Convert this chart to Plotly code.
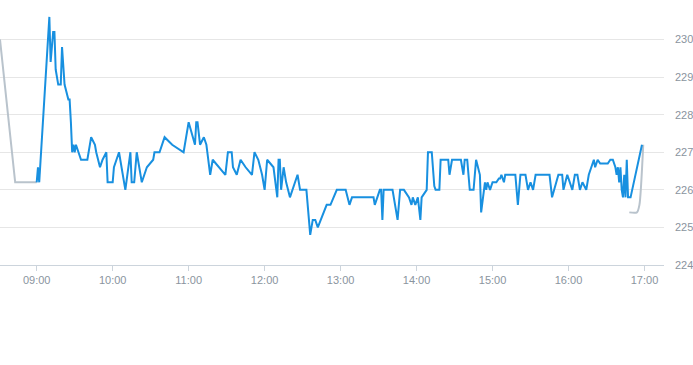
import plotly.graph_objects as go

DAY = "2024-01-02 "

blue_times = [
    "09:00", "09:01", "09:02", "09:08", "09:10", "09:11", "09:13", "09:14", "09:15", "09:17",
    "09:19", "09:20", "09:22", "09:25", "09:26", "09:27", "09:28", "09:29", "09:30", "09:31",
    "09:33", "09:35", "09:40", "09:43", "09:46", "09:47", "09:50", "09:52", "09:55", "09:56",
    "10:00", "10:01", "10:05", "10:10", "10:14", "10:15", "10:17", "10:19", "10:23", "10:27",
    "10:32", "10:33", "10:37", "10:41", "10:47", "10:56", "11:00", "11:05", "11:06", "11:07",
    "11:09", "11:12", "11:14", "11:17", "11:19", "11:24", "11:29", "11:31", "11:34", "11:35",
    "11:38", "11:41", "11:45", "11:50", "11:52", "11:55", "11:58", "12:00", "12:02", "12:07",
    "12:10", "12:11", "12:12", "12:13", "12:15", "12:17", "12:20", "12:26", "12:28", "12:33",
    "12:36", "12:38", "12:40", "12:42", "12:49", "12:52", "12:57", "13:04", "13:07", "13:09",
    "13:26", "13:27", "13:31", "13:32", "13:33", "13:34", "13:41", "13:45", "13:47", "13:50",
    "13:54", "13:56", "13:57", "13:59", "14:01", "14:03", "14:04", "14:08", "14:09", "14:12",
    "14:14", "14:15", "14:18", "14:19", "14:25", "14:26", "14:28", "14:35", "14:37", "14:38",
    "14:40", "14:42", "14:45", "14:47", "14:50", "14:51", "14:54", "14:55", "14:56", "14:58",
    "15:00", "15:03", "15:05", "15:06", "15:07", "15:09", "15:10", "15:18", "15:20", "15:22",
    "15:26", "15:28", "15:30", "15:32", "15:34", "15:45", "15:47", "15:52", "15:55", "15:56",
    "15:59", "16:03", "16:05", "16:07", "16:09", "16:11", "16:14", "16:16", "16:20", "16:21",
    "16:23", "16:25", "16:27", "16:31", "16:33", "16:35", "16:37", "16:38", "16:39", "16:40",
    "16:41", "16:42", "16:43", "16:44", "16:45", "16:46", "16:47", "16:49", "16:58",
]
blue_values = [
    226.2, 226.6, 226.2, 229.6, 230.6, 229.4, 230.2, 230.2, 229.2, 228.8,
    228.8, 229.8, 228.8, 228.4, 228.4, 227.8, 227.0, 227.2, 227.0, 227.2,
    227.0, 226.8, 226.8, 227.4, 227.2, 227.0, 226.6, 226.8, 227.0, 226.2,
    226.2, 226.6, 227.0, 226.0, 227.0, 226.2, 226.2, 227.0, 226.2, 226.6,
    226.8, 227.0, 227.0, 227.4, 227.2, 227.0, 227.8, 227.2, 227.8, 227.8,
    227.2, 227.4, 227.2, 226.4, 226.8, 226.6, 226.4, 227.0, 227.0, 226.6,
    226.4, 226.8, 226.6, 226.4, 227.0, 226.8, 226.4, 226.0, 226.8, 226.6,
    225.8, 226.8, 226.8, 226.0, 226.6, 226.2, 225.8, 226.4, 226.0, 226.0,
    224.8, 225.2, 225.2, 225.0, 225.6, 225.6, 226.0, 226.0, 225.6, 225.8,
    225.8, 225.6, 226.0, 226.0, 225.2, 226.0, 226.0, 225.2, 226.0, 226.0,
    225.8, 225.6, 225.8, 225.6, 225.8, 225.2, 225.8, 226.0, 227.0, 227.0,
    226.1, 226.0, 226.0, 226.8, 226.8, 226.4, 226.8, 226.8, 226.4, 226.8,
    226.8, 226.0, 226.0, 226.8, 226.4, 225.4, 226.2, 226.0, 226.2, 226.0,
    226.2, 226.2, 226.3, 226.3, 226.4, 226.2, 226.4, 226.4, 225.6, 226.4,
    226.4, 226.0, 226.2, 226.0, 226.4, 226.4, 225.8, 226.4, 226.4, 226.0,
    226.4, 226.0, 226.4, 226.4, 226.0, 226.2, 226.0, 226.4, 226.8, 226.6,
    226.8, 226.7, 226.7, 226.7, 226.8, 226.8, 226.6, 226.4, 226.6, 226.2,
    226.6, 226.0, 225.8, 226.4, 225.8, 226.8, 225.8, 225.8, 227.2,
]

gray_pre_times = ["08:31", "08:43", "09:00"]
gray_pre_values = [230.0, 226.2, 226.2]

gray_post_times = ["16:48", "16:54", "16:56", "16:59"]
gray_post_values = [225.4, 225.4, 225.6, 227.2]

y_ticks = [224, 225, 226, 227, 228, 229, 230]

BLUE = "#1890e0"
GRAY = "#b9c3cc"
LABEL = "#8a949e"


def ts(lst):
    return [DAY + t for t in lst]


fig = go.Figure()
fig.add_trace(go.Scatter(x=ts(gray_pre_times), y=gray_pre_values, mode="lines",
                         line=dict(color=GRAY, width=2), hoverinfo="skip"))
fig.add_trace(go.Scatter(x=ts(gray_post_times), y=gray_post_values, mode="lines",
                         line=dict(color=GRAY, width=2, shape="spline", smoothing=0.6),
                         hoverinfo="skip"))
fig.add_trace(go.Scatter(x=ts(blue_times), y=blue_values, mode="lines",
                         line=dict(color=BLUE, width=2)))

fig.update_layout(
    width=693, height=365,
    margin=dict(l=0, r=29, t=0, b=100),
    paper_bgcolor="white", plot_bgcolor="white",
    showlegend=False,
    font=dict(family="Liberation Sans, Arial, sans-serif", size=11, color=LABEL),
    xaxis=dict(
        type="date",
        range=[DAY + "08:31:01", DAY + "17:15:24"],
        tick0=DAY + "09:00", dtick=3600000, tickformat="%H:%M",
        showgrid=False, showline=True, linecolor="#ccd4dc", linewidth=1,
        ticks="outside", ticklen=5, tickcolor="#ccd4dc",
        zeroline=False, fixedrange=True, automargin=False,
    ),
    yaxis=dict(
        side="right",
        range=[224, 231.05],
        tickvals=y_ticks, ticktext=[str(v) for v in y_ticks],
        showgrid=True, gridcolor="#e6e6e6", gridwidth=1,
        zeroline=False, showline=False, ticks="",
        ticklabelstandoff=10, fixedrange=True, automargin=False,
    ),
)

fig.write_html(
    "out.html",
    config={"displayModeBar": False},
    post_script="document.body.style.margin='0';document.body.style.overflow='hidden';",
)
